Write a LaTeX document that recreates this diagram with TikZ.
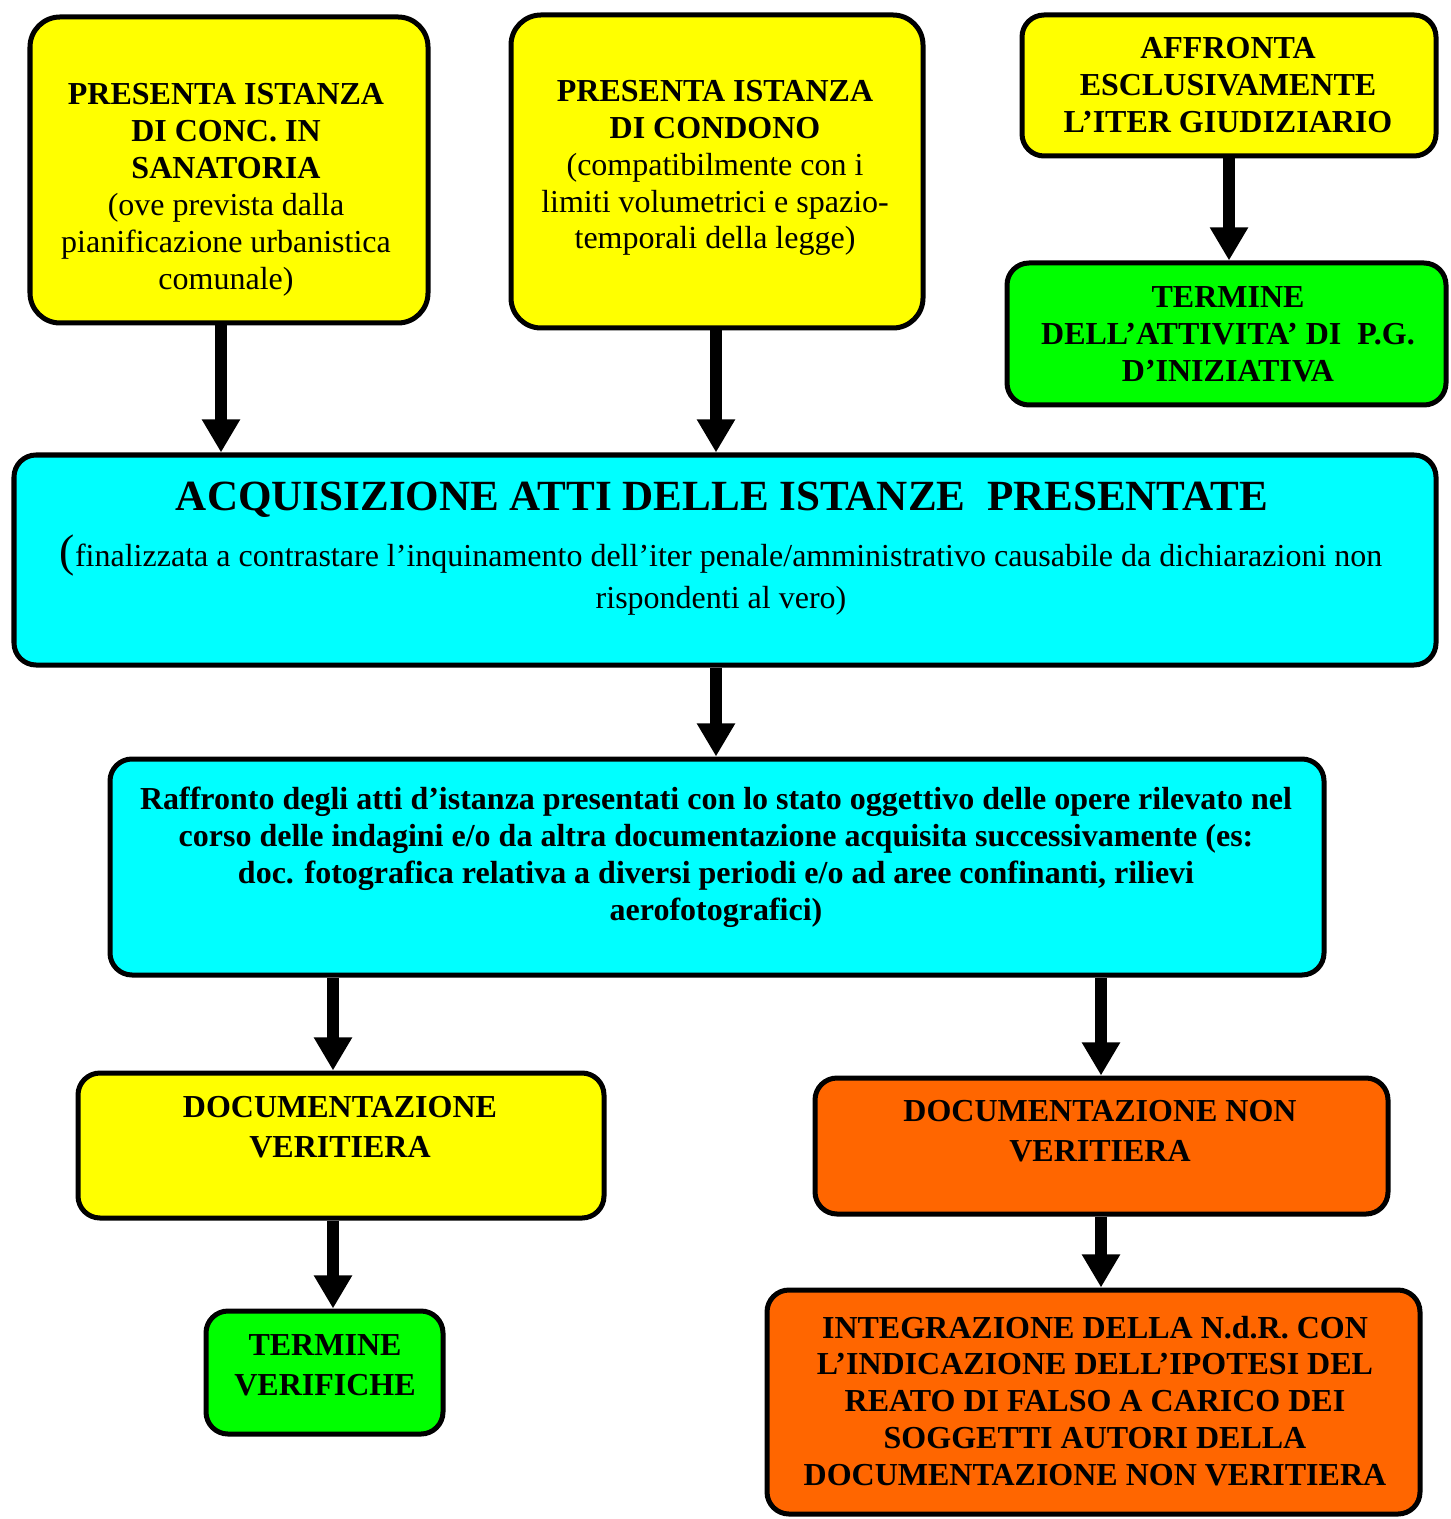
\documentclass[tikz,border=0pt]{standalone}
\usepackage{fontspec}
\setmainfont{Liberation Serif}
\usetikzlibrary{arrows.meta,fit}
\definecolor{falsoorange}{HTML}{FF6600}
\definecolor{istyellow}{HTML}{FFFF00}
\definecolor{acqcyan}{HTML}{00FFFF}
\definecolor{finegreen}{HTML}{00FF00}

\begin{document}
\begin{tikzpicture}[x=0.01cm, y=-0.01cm, inner sep=0pt,
		boxstyle/.style={draw, line width=0.05cm, rounded corners=0.22cm},
		textstyle/.style={align=center, font=\fontsize{9.1}{10.5}\selectfont},
		arrowstyle/.style={line width=0.12cm, -{Triangle[width=0.36cm,length=0.33cm]}}]
		\useasboundingbox (0,0) rectangle (1450,1519);

		% prima riga
		\node [boxstyle, fill=istyellow, rounded corners=0.3cm, fit={(30,17) (428,323)}] (conc) {};
		\node [textstyle] (conc-t) at (226,190) {\textbf{PRESENTA ISTANZA}\\ \textbf{DI CONC. IN}\\ \textbf{SANATORIA}\\ (ove prevista dalla\\ pianificazione urbanistica\\ comunale)};
		\node [boxstyle, fill=istyellow, rounded corners=0.3cm, fit={(511,15) (923,328)}] (cond) {};
		\node [textstyle] (cond-t) at (715,168) {\textbf{PRESENTA ISTANZA}\\ \textbf{DI CONDONO}\\ (compatibilmente con i\\ limiti volumetrici e spazio-\\ temporali della legge)};
		\node [boxstyle, fill=istyellow, fit={(1022,15) (1436,156)}] (iter) {};
		\node [textstyle, font=\fontsize{9.1}{10.5}\selectfont\bfseries] (iter-t) at (1228,85) {AFFRONTA\\ ESCLUSIVAMENTE\\ L’ITER GIUDIZIARIO};
		\node [boxstyle, fill=finegreen, fit={(1007,263) (1446,405)}] (term) {};
		\node [textstyle, font=\fontsize{9.1}{10.5}\selectfont\bfseries] (term-t) at (1228,334) {TERMINE\\ DELL’ATTIVITA’ DI\ \ P.G.\\ D’INIZIATIVA};

		% acquisizione
		\node [boxstyle, fill=acqcyan, fit={(14,455) (1436,665)}] (acq) {};
		\node [font=\fontsize{12.25}{14}\selectfont\bfseries, anchor=base] (acq-t) at (722,511) {ACQUISIZIONE ATTI DELLE ISTANZE\ \ PRESENTATE};
		\node [textstyle, font=\fontsize{9.1}{12}\selectfont] (acq-n) at (721,575) {{\fontsize{13}{12}\selectfont(}finalizzata a contrastare l’inquinamento dell’iter penale/amministrativo causabile da dichiarazioni non\\ rispondenti al vero)};

		% raffronto
		\node [boxstyle, fill=acqcyan, fit={(110,759) (1324,975)}] (raff) {};
		\node [textstyle, font=\fontsize{9.1}{10.5}\selectfont\bfseries] (raff-t) at (716,857) {Raffronto degli atti d’istanza presentati con lo stato oggettivo delle opere rilevato nel\\ corso delle indagini e/o da altra documentazione acquisita successivamente (es:\\ doc. fotografica relativa a diversi periodi e/o ad aree confinanti, rilievi\\ aerofotografici)};

		% esiti
		\node [boxstyle, fill=istyellow, fit={(78,1073) (604,1218)}] (ver) {};
		\node [textstyle, font=\fontsize{9.1}{11.4}\selectfont\bfseries] (ver-t) at (340,1127) {DOCUMENTAZIONE\\ VERITIERA};
		\node [boxstyle, fill=falsoorange, fit={(815,1078) (1388,1214)}] (nver) {};
		\node [textstyle, font=\fontsize{9.1}{11.4}\selectfont\bfseries] (nver-t) at (1100,1131) {DOCUMENTAZIONE NON\\ VERITIERA};
		\node [boxstyle, fill=finegreen, fit={(206,1311) (443,1434)}] (fine) {};
		\node [textstyle, font=\fontsize{9.1}{11.4}\selectfont\bfseries] (fine-t) at (325,1365) {TERMINE\\ VERIFICHE};
		\node [boxstyle, fill=falsoorange, fit={(767,1290) (1420,1514)}] (integr) {};
		\node [textstyle, font=\fontsize{9.1}{10.5}\selectfont\bfseries] (integr-t) at (1095,1401) {INTEGRAZIONE DELLA N.d.R. CON\\ L’INDICAZIONE DELL’IPOTESI DEL\\ REATO DI FALSO A CARICO DEI\\ SOGGETTI AUTORI DELLA\\ DOCUMENTAZIONE NON VERITIERA};

		\foreach \from/\to/\xpos in {conc/acq/221, cond/acq/716, iter/term/1229, acq/raff/716, raff/ver/333, raff/nver/1101, ver/fine/333, nver/integr/1101}
			\draw [arrowstyle] (\xpos,0 |- \from.south) -- (\xpos,0 |- \to.north);
\end{tikzpicture}
\end{document}
